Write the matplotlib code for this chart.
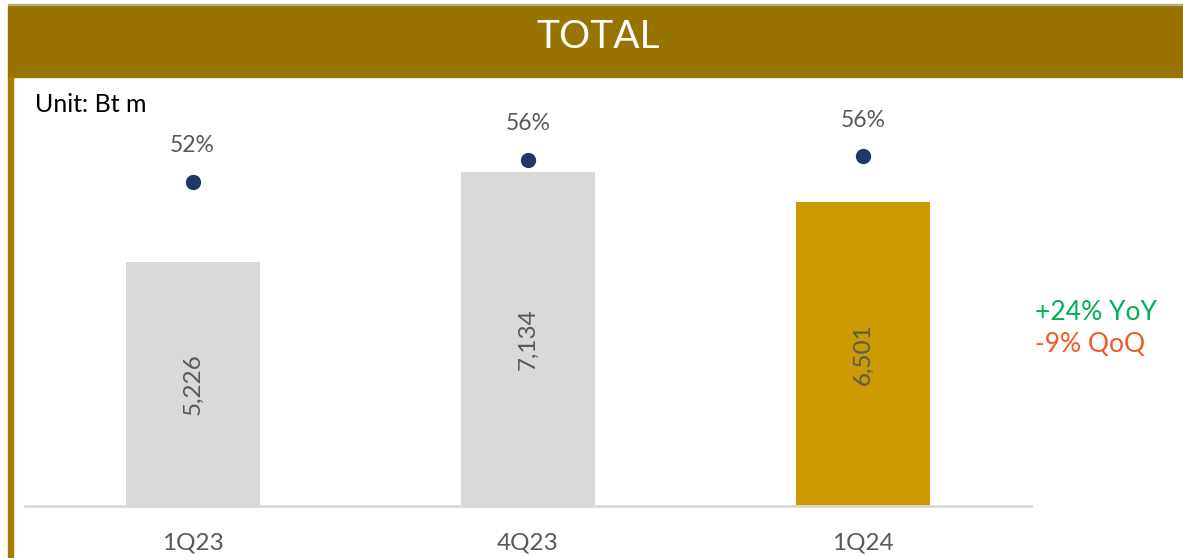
import matplotlib
matplotlib.use("Agg")
import matplotlib.pyplot as plt
from matplotlib.patches import Rectangle

# Data
quarters = ["1Q23", "4Q23", "1Q24"]
revenue = [5226, 7134, 6501]          # Bt m
margin_pct = [52.0, 55.6, 56.2]       # %
yoy_text = "+24% YoY"
qoq_text = "-9% QoQ"

# Styles
HEADER = "#987300"
BORDER = "#A47C00"
GREY_BAR = "#D9D9D9"
GOLD_BAR = "#CC9900"
DOT = "#1F3864"
TXT = "#595959"
bar_colors = [GREY_BAR, GREY_BAR, GOLD_BAR]

plt.rcParams["font.family"] = ["Lato", "DejaVu Sans"]

W, H = 1183, 558
fig = plt.figure(figsize=(W / 100, H / 100), dpi=100)
fig.patch.set_facecolor("white")

def fx(px):
    return px / W

def fy(py):
    return 1 - py / H

# Header band and left border
fig.patches.append(Rectangle((fx(8), fy(77)), 1 - fx(8), fy(6) - fy(77),
                             transform=fig.transFigure, color=HEADER, zorder=0))
fig.patches.append(Rectangle((fx(8), fy(5)), 1 - fx(8), fy(4) - fy(5.5),
                             transform=fig.transFigure, color="#B8A98A", zorder=0))
fig.patches.append(Rectangle((fx(8), 0), fx(4.5), fy(77),
                             transform=fig.transFigure, color=BORDER, zorder=0))
fig.text(fx(598), fy(37), "TOTAL", color="white", fontsize=28,
         ha="center", va="center")
fig.text(fx(35), fy(104), "Unit: Bt m", color="black", fontsize=18,
         ha="left", va="center")

# Main axes: bars
ax_left, ax_right = 25, 1031
ax_top, ax_bottom = 80, 506
ax = fig.add_axes([fx(ax_left), fy(ax_bottom), fx(ax_right - ax_left),
                   fy(ax_top) - fy(ax_bottom)])
ax.set_facecolor("none")
x = list(range(len(quarters)))
px_per_unit = 0.04675
ax.set_ylim(0, (ax_bottom - ax_top) / px_per_unit)
ax.set_xlim(-0.5, len(quarters) - 0.5)
bar_w = 134 / ((ax_right - ax_left) / len(quarters))
bars = ax.bar(x, revenue, width=bar_w, color=bar_colors, zorder=2)
for xi, v in zip(x, revenue):
    ax.text(xi, v / 2, f"{v:,}", rotation=90, ha="center", va="center",
            color=TXT, fontsize=17.5, zorder=3)

ax.set_xticks(x)
ax.set_xticklabels(quarters, color=TXT, fontsize=17.5)
ax.tick_params(axis="x", length=0, pad=19)
ax.set_yticks([])
for s in ["top", "right", "left"]:
    ax.spines[s].set_visible(False)
ax.spines["bottom"].set_color(GREY_BAR)
ax.spines["bottom"].set_linewidth(2)

# Secondary axes: margin dots
ax2 = ax.twinx()
px_per_pct = 6.0
lo = 52.0 - (ax_bottom - 181.7) / px_per_pct
hi = lo + (ax_bottom - ax_top) / px_per_pct
ax2.set_ylim(lo, hi)
ax2.set_yticks([])
for s in ax2.spines.values():
    s.set_visible(False)
ax2.plot(x, margin_pct, linestyle="none", marker="o", markersize=10,
         color=DOT, zorder=4)
for xi, m in zip(x, margin_pct):
    ax2.annotate(f"{m:.0f}%", (xi, m), xytext=(0, 26), textcoords="offset points",
                 ha="center", va="center", color=TXT, fontsize=16.5)

# Growth callouts
fig.text(fx(1035), fy(313), yoy_text, color="#00B050", fontsize=19,
         ha="left", va="center")
fig.text(fx(1035), fy(345), qoq_text, color="#F05A28", fontsize=19,
         ha="left", va="center")

fig.savefig("out.png", dpi=100, facecolor="white")
